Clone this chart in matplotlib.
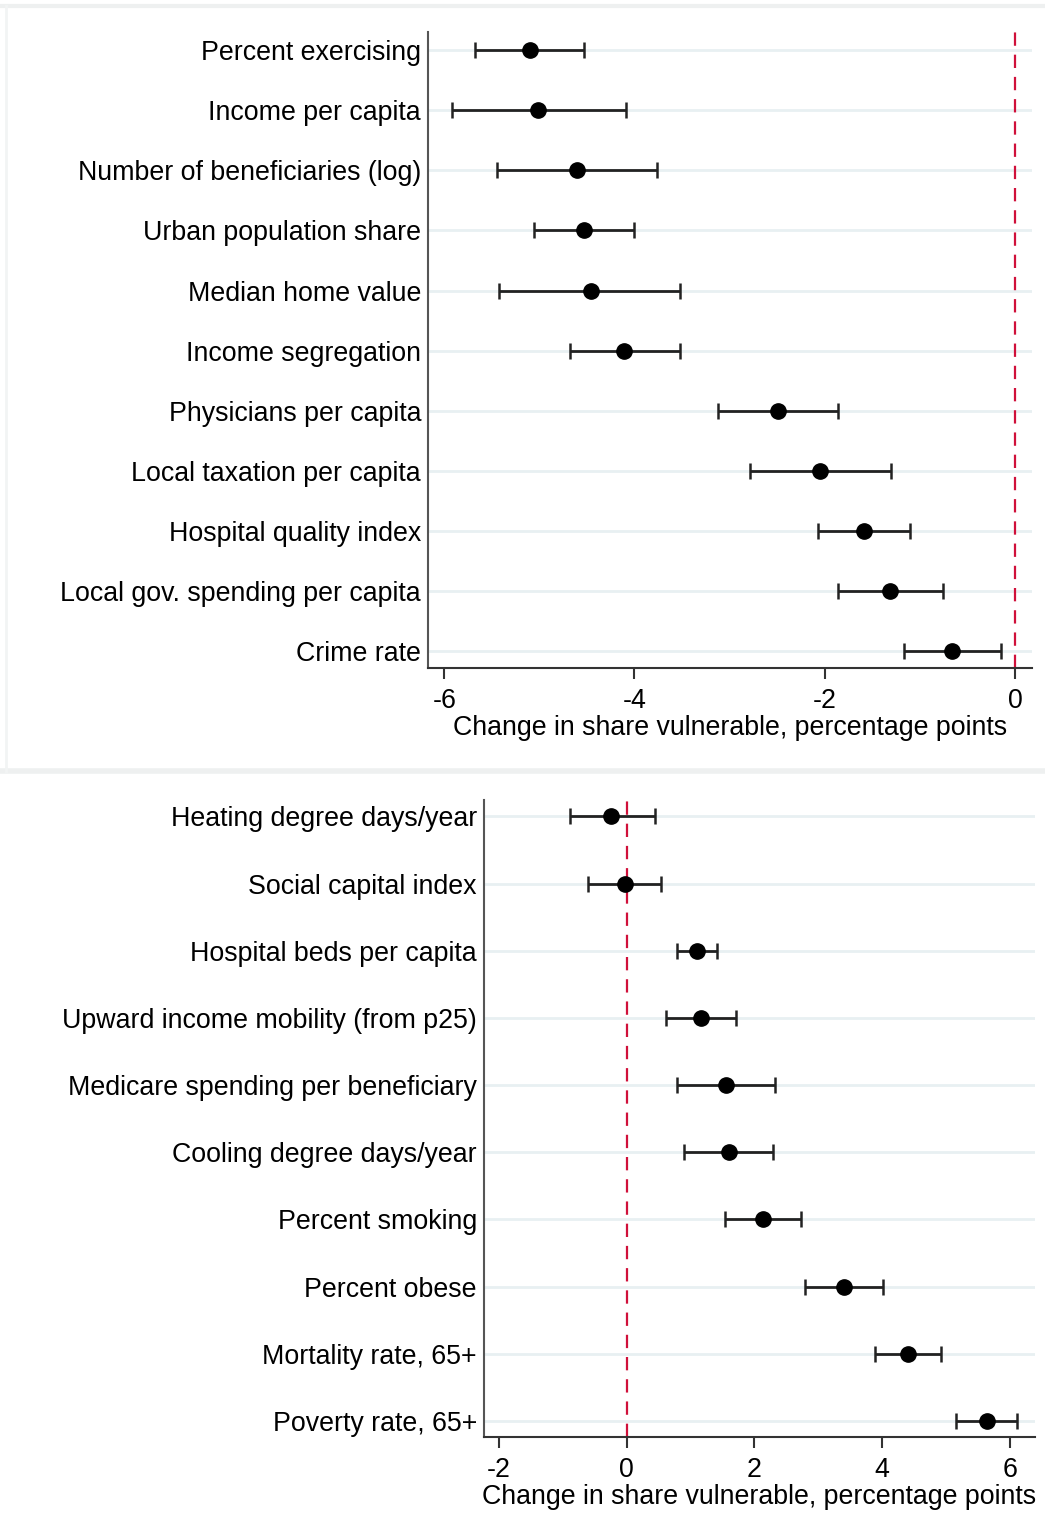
import numpy as np
import matplotlib
matplotlib.use('Agg')
import matplotlib.pyplot as plt
from matplotlib.lines import Line2D

plt.rcParams['font.family'] = ['Liberation Sans', 'DejaVu Sans']

# top panel
top_labels = ['Percent exercising', 'Income per capita', 'Number of beneficiaries (log)',
              'Urban population share', 'Median home value', 'Income segregation',
              'Physicians per capita', 'Local taxation per capita', 'Hospital quality index',
              'Local gov. spending per capita', 'Crime rate']
top_est = [-5.10, -5.01, -4.60, -4.53, -4.46, -4.11, -2.49, -2.05, -1.59, -1.31, -0.66]
top_lo = [-5.68, -5.92, -5.44, -5.06, -5.42, -4.68, -3.12, -2.78, -2.07, -1.86, -1.17]
top_hi = [-4.53, -4.09, -3.76, -4.00, -3.52, -3.52, -1.86, -1.30, -1.10, -0.76, -0.15]

# bottom panel
bot_labels = ['Heating degree days/year', 'Social capital index', 'Hospital beds per capita',
              'Upward income mobility (from p25)', 'Medicare spending per beneficiary',
              'Cooling degree days/year', 'Percent smoking', 'Percent obese',
              'Mortality rate, 65+', 'Poverty rate, 65+']
bot_est = [-0.24, -0.03, 1.10, 1.16, 1.55, 1.60, 2.13, 3.40, 4.40, 5.64]
bot_lo = [-0.89, -0.60, 0.78, 0.61, 0.78, 0.89, 1.54, 2.79, 3.89, 5.16]
bot_hi = [0.44, 0.53, 1.41, 1.71, 2.32, 2.29, 2.73, 4.01, 4.92, 6.11]

fs = 19.3

fig = plt.figure(figsize=(10.45, 15.32), dpi=100)

def panel(rect, labels, est, lo, hi, xlim, ylim, xticks):
    ax = fig.add_axes(rect)
    y = np.arange(len(labels))
    est = np.array(est); lo = np.array(lo); hi = np.array(hi)
    for yy in y:
        ax.axhline(yy, color='#e8f0f2', linewidth=2, zorder=0)
    ax.axvline(0, color='#d0103a', linestyle=(0, (6, 4)), linewidth=1.6, zorder=1)
    ax.errorbar(est, y, xerr=[est - lo, hi - est], fmt='o', color='black',
                ecolor='#222222', elinewidth=2, capsize=6, capthick=1.8,
                markersize=11, zorder=3)
    ax.set_yticks(y)
    ax.set_yticklabels(labels, fontsize=fs)
    ax.set_xticks(xticks)
    ax.set_xticklabels([str(t) if t >= 0 else '-' + str(-t) for t in xticks], fontsize=fs)
    ax.set_xlim(xlim)
    ax.set_ylim(ylim)
    ax.tick_params(axis='y', length=0, pad=5)
    ax.tick_params(axis='x', length=8, width=1.5, color='#333333', pad=6.5)
    ax.spines['top'].set_visible(False)
    ax.spines['right'].set_visible(False)
    ax.spines['left'].set_color('#555555')
    ax.spines['bottom'].set_color('#333333')
    ax.spines['left'].set_linewidth(1.5)
    ax.spines['bottom'].set_linewidth(1.5)
    ax.set_xlabel('Change in share vulnerable, percentage points', fontsize=fs, labelpad=0.5)
    return ax

panel([0.4096, 0.564, 0.578, 0.415], top_labels, top_est, top_lo, top_hi,
      (-6.17, 0.18), (10.28, -0.3), [-6, -4, -2, 0])
panel([0.463, 0.062, 0.527, 0.416], bot_labels, bot_est, bot_lo, bot_hi,
      (-2.24, 6.39), (9.24, -0.25), [-2, 0, 2, 4, 6])

# faint borders between the two stitched panels
fig.add_artist(Line2D([0, 1], [1 - 6 / 1532, 1 - 6 / 1532], color='#eef0f0', linewidth=3))
fig.add_artist(Line2D([0, 1], [1 - 771 / 1532, 1 - 771 / 1532], color='#eef0f0', linewidth=4))
fig.add_artist(Line2D([0.006, 0.006], [1 - 771 / 1532, 1 - 6 / 1532], color='#f2f4f4', linewidth=2))

fig.savefig('out.png', dpi=100)
